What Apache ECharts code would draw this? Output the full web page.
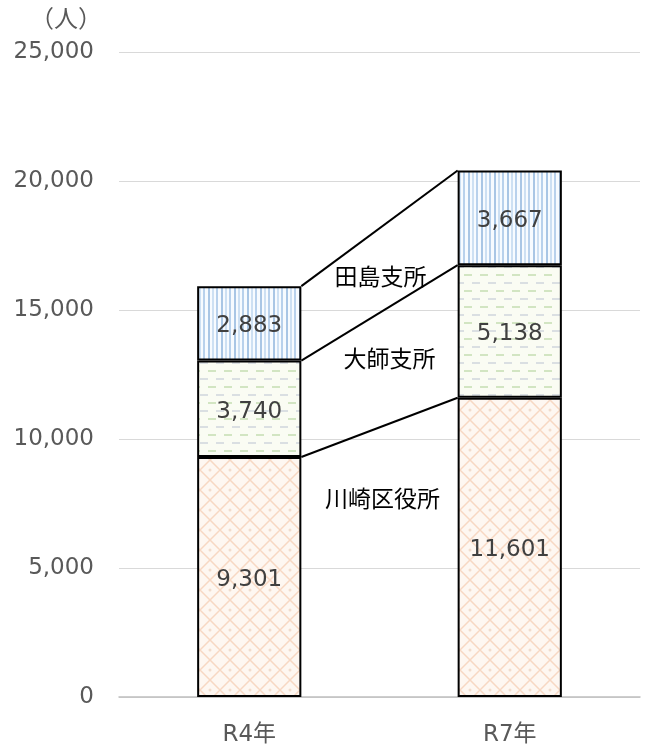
<!DOCTYPE html>
<html><head><meta charset="utf-8">
<script src="https://cdn.jsdelivr.net/npm/echarts@6/dist/echarts.min.js"></script>
<style>html,body{margin:0;padding:0;background:#fff}#c{width:648px;height:749px}</style>
</head><body><div id="c"></div>
<script>
// ---- data ----
const categories = ['R4年', 'R7年'];
const seriesNames = ['川崎区役所', '大師支所', '田島支所'];
const kawasaki = [9301, 11601];
const daishi = [3740, 5138];
const tajima = [2883, 3667];
const yMin = 0, yMax = 25000, yInterval = 5000;
const unitLabel = '（人）';

// ---- styles ----
const FONT = '"DejaVu Sans", "Noto Sans CJK JP", sans-serif';
const CJK = '"Noto Sans CJK JP", sans-serif';

function makeCanvas(w, h, draw) {
  const c = document.createElement('canvas');
  c.width = w; c.height = h;
  const ctx = c.getContext('2d');
  draw(ctx, w, h);
  return c;
}
// 田島: vertical stripes
const patTajima = makeCanvas(13, 8, (ctx, w, h) => {
  ctx.fillStyle = '#f7fbff'; ctx.fillRect(0, 0, w, h);
  ctx.fillStyle = '#a9c6e5'; ctx.fillRect(0, 0, 2, h);
  ctx.fillStyle = '#cde0f3'; ctx.fillRect(4, 0, 2, h);
  ctx.fillStyle = '#b8d1ec'; ctx.fillRect(8, 0, 2, h);
});
// 大師: short horizontal dashes
const patDaishi = makeCanvas(16, 16, (ctx, w, h) => {
  ctx.fillStyle = '#fafcf3'; ctx.fillRect(0, 0, w, h);
  ctx.fillStyle = '#d2e5c2'; ctx.fillRect(0, 2, 8, 2);
  ctx.fillStyle = '#dadfe2'; ctx.fillRect(8, 10, 8, 2);
});
// 川崎: diamond lattice
const patKawasaki = makeCanvas(20, 20, (ctx, w, h) => {
  ctx.fillStyle = '#fef7f1'; ctx.fillRect(0, 0, w, h);
  ctx.strokeStyle = '#f7d8c3'; ctx.lineWidth = 1.5;
  ctx.beginPath();
  ctx.moveTo(0, 10); ctx.lineTo(10, 0); ctx.lineTo(20, 10); ctx.lineTo(10, 20); ctx.closePath();
  ctx.stroke();
  ctx.fillStyle = '#f3dccb';
  ctx.beginPath(); ctx.arc(10, 10, 1.5, 0, Math.PI * 2); ctx.fill();
});
const patterns = [patKawasaki, patDaishi, patTajima];
const stacks = [kawasaki, daishi, tajima];
// label offsets (pixels) relative to each segment's top connector
const labelDx = [3, 10, 1];
const labelDy = [72, 52, 49];

const fmt = v => Number(v).toLocaleString('en-US');
const BAR_RATIO = 0.4;

const barSeries = stacks.map((data, i) => ({
  name: seriesNames[i],
  type: 'bar',
  stack: 'total',
  barWidth: (BAR_RATIO * 100) + '%',
  data: data,
  itemStyle: { color: { image: patterns[i], repeat: 'repeat' }, borderColor: '#000', borderWidth: 2 },
  label: { show: true, position: 'inside', offset: [0, 3], fontSize: 23, fontFamily: FONT, color: '#404040',
    formatter: p => fmt(p.value) },
  emphasis: { disabled: true }
}));

const connector = {
  type: 'custom',
  data: [[0, 0]],
  silent: true,
  z: 5,
  renderItem: function (params, api) {
    const band = api.size([1, 0])[0];
    const bw = band * BAR_RATIO;
    const children = [];
    let a = 0, b = 0;
    stacks.forEach((s, i) => {
      a += s[0]; b += s[1];
      const p0 = api.coord([0, a]);
      const p1 = api.coord([1, b]);
      const x1 = p0[0] + bw / 2, y1 = p0[1];
      const x2 = p1[0] - bw / 2, y2 = p1[1];
      children.push({ type: 'line', shape: { x1, y1, x2, y2 }, style: { stroke: '#000', lineWidth: 2 } });
      const lx = (x1 + x2) / 2 + labelDx[i];
      const ly = y1 + (y2 - y1) * (lx - x1) / (x2 - x1) + labelDy[i];
      children.push({ type: 'text', x: lx, y: ly,
        style: { text: seriesNames[i], font: '23px ' + CJK, fill: '#000', align: 'center', verticalAlign: 'middle' } });
    });
    return { type: 'group', children };
  }
};

const chart = echarts.init(document.getElementById('c'), null, { renderer: 'canvas' });
chart.setOption({
  animation: false,
  backgroundColor: '#fff',
  title: { text: unitLabel, left: 30, top: 6, padding: 0,
    textStyle: { fontSize: 24, fontWeight: 'normal', color: '#595959', fontFamily: CJK } },
  grid: { left: 119, right: 8, top: 52, bottom: 52, containLabel: false },
  xAxis: {
    type: 'category', data: categories,
    axisTick: { show: false },
    axisLine: { lineStyle: { color: '#bfbfbf', width: 1.5 } },
    axisLabel: { fontSize: 23, color: '#595959', fontFamily: FONT, margin: 27 }
  },
  yAxis: {
    type: 'value', min: yMin, max: yMax, interval: yInterval,
    axisLine: { show: false }, axisTick: { show: false },
    splitLine: { lineStyle: { color: '#d9d9d9', width: 1.2 } },
    axisLabel: { fontSize: 23, color: '#595959', fontFamily: FONT, margin: 25, padding: [4, 0, 0, 0], formatter: v => fmt(v) }
  },
  series: [...barSeries, connector]
});
</script>
</body></html>
